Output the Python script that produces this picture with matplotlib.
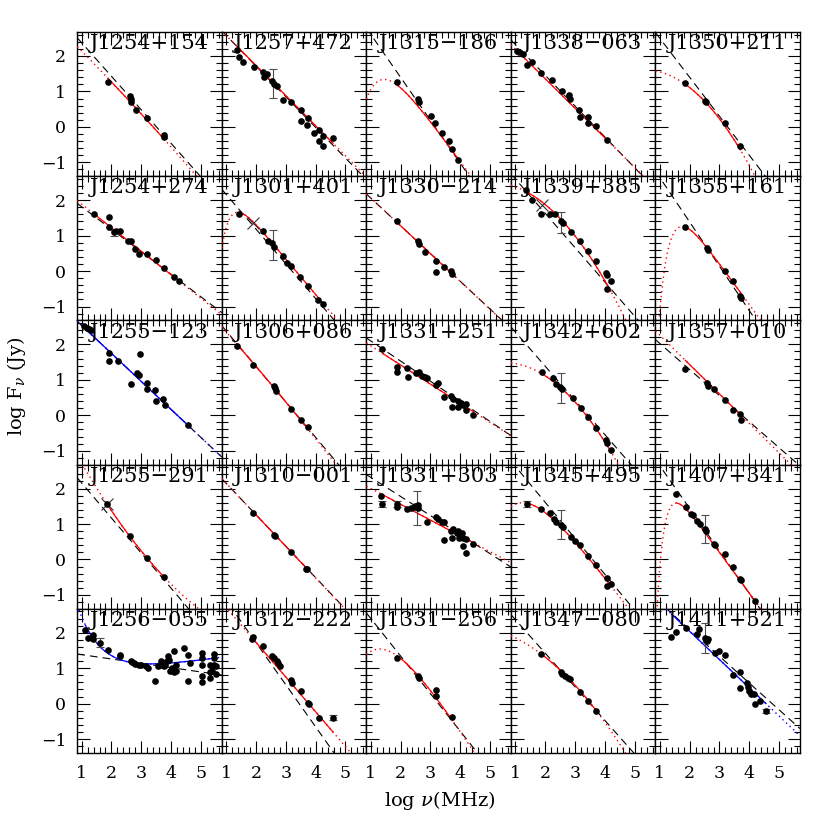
import numpy as np
import matplotlib

matplotlib.use("Agg")
import matplotlib.pyplot as plt
from matplotlib.ticker import MultipleLocator

plt.rcParams["font.family"] = ["DejaVu Serif"]
plt.rcParams["mathtext.fontset"] = "dejavuserif"

# panel order: column by column, as in the figure
names = [
    "J1254+154", "J1254+274", "J1255-123", "J1255-291", "J1256-055",
    "J1257+472", "J1301+401", "J1306+086", "J1310-001", "J1312-222",
    "J1315-186", "J1330-214", "J1331+251", "J1331+303", "J1331-256",
    "J1338-063", "J1339+385", "J1342+602", "J1345+495", "J1347-080",
    "J1350+211", "J1355+161", "J1357+010", "J1407+341", "J1411+521",
]

# log frequency (MHz) of the measurements
freq = {
    "J1254+154": [1.88, 2.61, 2.64, 2.67, 2.83, 3.20, 3.75, 3.75],
    "J1254+274": [1.41, 1.92, 1.92, 2.07, 2.14, 2.28, 2.55, 2.64, 2.80, 2.91, 3.18, 3.50, 3.75, 4.10, 4.26],
    "J1255-123": [1.09, 1.17, 1.25, 1.33, 1.92, 1.92, 2.23, 2.96, 2.64, 2.86, 2.91, 3.18, 3.20, 3.47, 3.50, 3.74, 3.78, 4.57],
    "J1255-291": [1.85, 2.61, 3.18, 3.75],
    "J1256-055": [1.12, 1.22, 1.38, 1.38, 1.60, 1.88, 2.28, 2.28, 2.64, 2.68, 2.75, 2.80, 2.91, 2.99, 3.15,
                  3.23, 3.47, 3.55, 3.62, 3.66, 3.70, 3.75, 3.81, 3.86, 3.91, 3.94, 3.97, 4.02, 4.10, 4.10,
                  4.18, 4.18, 4.42, 4.57, 4.57, 4.65, 5.02, 5.02, 5.05, 5.05, 5.05, 5.29, 5.29, 5.29, 5.44,
                  5.44, 5.44, 5.49, 5.36, 5.52],
    "J1257+472": [1.35, 1.43, 1.58, 1.92, 2.22, 2.37, 2.28, 2.52, 2.60, 2.69, 2.91, 3.18, 3.50, 3.75, 3.72,
                  3.50, 3.96, 4.11, 4.26, 4.11, 4.24, 4.59],
    "J1301+401": [1.43, 2.25, 2.41, 2.55, 2.61, 2.90, 3.05, 3.18, 3.48, 3.74, 4.08, 4.24],
    "J1306+086": [1.35, 1.90, 2.60, 2.63, 2.66, 3.17, 3.50, 3.74],
    "J1310-001": [1.90, 2.60, 2.63, 3.18, 3.66, 3.72],
    "J1312-222": [1.87, 1.90, 2.23, 2.55, 2.61, 2.71, 2.74, 2.82, 3.18, 3.21, 3.50, 3.74, 3.77, 4.10, 4.59],
    "J1315-186": [1.88, 2.58, 2.61, 3.01, 3.17, 3.39, 3.62, 3.72, 3.93],
    "J1330-214": [1.88, 2.58, 2.61, 2.82, 3.18, 3.18, 3.47, 3.70, 3.74],
    "J1331+251": [1.39, 1.88, 1.88, 2.23, 2.26, 2.53, 2.61, 2.71, 2.83, 2.88, 3.20, 3.26, 3.47, 3.70, 3.77,
                  3.93, 4.02, 3.74, 3.94, 4.10, 4.21, 4.18, 4.42],
    "J1331+303": [1.33, 1.39, 1.88, 1.88, 2.23, 2.34, 2.47, 2.50, 2.58, 2.58, 2.90, 3.18, 3.26, 3.39, 3.45,
                  3.47, 3.70, 3.74, 3.77, 3.89, 3.94, 3.97, 4.05, 4.10, 4.18, 4.08, 4.21, 4.42],
    "J1331-256": [1.88, 2.58, 2.61, 3.18, 3.18, 3.74],
    "J1338-063": [1.06, 1.14, 1.27, 1.39, 1.55, 1.87, 2.22, 2.58, 2.79, 2.85, 3.13, 3.17, 3.45, 3.45, 3.72, 4.08],
    "J1339+385": [1.35, 1.55, 1.87, 2.18, 2.34, 2.53, 2.60, 2.88, 3.17, 3.45, 3.72, 4.04, 4.08, 4.21, 4.08],
    "J1342+602": [1.90, 2.25, 2.37, 2.50, 2.56, 2.93, 3.20, 3.45, 3.72, 4.04, 4.08, 4.21],
    "J1345+495": [1.39, 1.87, 2.18, 2.30, 2.37, 2.53, 2.61, 2.88, 3.01, 3.17, 3.45, 3.72, 4.08, 4.08, 4.21],
    "J1347-080": [1.87, 2.53, 2.58, 2.66, 2.77, 2.82, 3.17, 3.45, 3.72],
    "J1350+211": [1.85, 2.52, 2.55, 3.17, 3.70],
    "J1355+161": [1.85, 2.58, 2.61, 3.17, 3.45, 3.69, 3.72],
    "J1357+010": [1.85, 2.58, 2.61, 2.82, 3.17, 3.45, 3.70, 3.72],
    "J1407+341": [1.55, 1.87, 2.03, 2.11, 2.23, 2.34, 2.50, 2.55, 2.82, 2.86, 3.17, 3.45, 3.69, 3.72, 4.19],
    "J1411+521": [1.39, 1.55, 1.87, 2.23, 2.30, 2.50, 2.55, 2.58, 2.61, 2.86, 2.98, 3.18, 3.45, 3.69, 3.69,
                  3.93, 3.97, 4.00, 4.04, 4.16, 4.19, 4.35, 4.56],
}

# log flux density (Jy)
flux = {
    "J1254+154": [1.27, 0.86, 0.80, 0.70, 0.49, 0.25, -0.24, -0.29],
    "J1254+274": [1.62, 1.52, 1.23, 1.10, 1.14, 1.12, 0.86, 0.84, 0.63, 0.48, 0.48, 0.30, 0.09, -0.16, -0.27],
    "J1255-123": [2.51, 2.47, 2.42, 2.40, 1.75, 1.52, 1.52, 1.73, 0.89, 1.18, 1.13, 0.92, 0.75, 0.71, 0.40, 0.45, 0.28, -0.26],
    "J1255-291": [1.56, 0.67, 0.04, -0.49],
    "J1256-055": [2.07, 1.86, 1.94, 1.81, 1.72, 1.52, 1.38, 1.34, 1.21, 1.18, 1.15, 1.12, 1.10, 1.08, 1.05,
                  1.01, 0.65, 1.05, 1.10, 1.21, 1.15, 1.05, 1.10, 1.19, 1.34, 1.24, 0.92, 1.00, 0.88, 1.49,
                  1.10, 0.92, 1.58, 1.37, 0.65, 1.15, 1.44, 1.30, 1.09, 0.78, 0.62, 0.73, 0.88, 1.10, 1.39,
                  1.30, 1.10, 0.85, 0.92, 1.05],
    "J1257+472": [2.18, 1.96, 1.82, 1.69, 1.56, 1.48, 1.41, 1.29, 1.21, 1.15, 0.76, 0.71, 0.48, 0.24, 0.05,
                  0.16, -0.17, -0.10, -0.26, -0.40, -0.55, -0.31],
    "J1301+401": [1.62, 1.12, 0.86, 0.79, 0.68, 0.44, 0.23, 0.15, -0.18, -0.43, -0.82, -0.93],
    "J1306+086": [1.95, 1.42, 0.82, 0.76, 0.68, 0.18, -0.12, -0.33],
    "J1310-001": [1.31, 0.69, 0.65, 0.20, -0.26, -0.28],
    "J1312-222": [1.81, 1.88, 1.63, 1.35, 1.28, 1.20, 1.16, 1.06, 0.66, 0.57, 0.36, 0.03, -0.02, -0.39, -0.39],
    "J1315-186": [1.27, 0.79, 0.70, 0.32, 0.11, -0.16, -0.40, -0.61, -0.92],
    "J1330-214": [1.40, 0.84, 0.77, 0.55, 0.29, -0.03, 0.12, -0.01, -0.09],
    "J1331+251": [1.87, 1.37, 1.22, 1.32, 1.08, 1.18, 1.22, 1.10, 1.08, 1.04, 0.86, 0.90, 0.51, 0.54, 0.45,
                  0.40, 0.35, 0.24, 0.23, 0.28, 0.31, 0.15, 0.02],
    "J1331+303": [1.80, 1.56, 1.56, 1.49, 1.42, 1.45, 1.47, 1.52, 1.53, 1.44, 1.05, 1.21, 1.14, 1.05, 1.05,
                  0.55, 0.81, 0.61, 0.86, 0.76, 0.81, 0.61, 0.76, 0.61, 0.57, 0.39, 0.17, 0.44],
    "J1331-256": [1.28, 0.78, 0.73, 0.38, 0.22, -0.37],
    "J1338-063": [2.15, 2.10, 2.06, 1.75, 1.82, 1.52, 1.31, 1.02, 0.89, 0.79, 0.49, 0.27, 0.27, 0.10, 0.02, -0.37],
    "J1339+385": [2.29, 2.01, 1.61, 1.62, 1.62, 1.42, 1.35, 1.10, 0.84, 0.57, 0.29, -0.06, -0.12, -0.29, -0.50],
    "J1342+602": [1.22, 1.06, 0.89, 0.80, 0.75, 0.49, 0.21, -0.04, -0.35, -0.70, -0.79, -0.98],
    "J1345+495": [1.56, 1.42, 1.31, 1.14, 1.07, 0.98, 0.92, 0.64, 0.53, 0.41, 0.11, -0.15, -0.53, -0.75, -0.69],
    "J1347-080": [1.39, 0.90, 0.85, 0.78, 0.72, 0.69, 0.34, 0.08, -0.20],
    "J1350+211": [1.23, 0.72, 0.70, 0.12, -0.55],
    "J1355+161": [1.23, 0.65, 0.59, -0.01, -0.27, -0.69, -0.76],
    "J1357+010": [1.31, 0.92, 0.84, 0.75, 0.42, 0.15, 0.05, -0.12],
    "J1407+341": [1.86, 1.47, 1.28, 1.26, 1.09, 1.00, 0.86, 0.81, 0.44, 0.42, 0.15, -0.22, -0.55, -0.58, -1.18],
    "J1411+521": [1.88, 2.03, 2.12, 1.96, 2.10, 1.86, 1.81, 1.77, 1.81, 1.44, 1.49, 1.37, 0.81, 0.88, 0.45,
                  0.59, 0.47, 0.36, 0.27, 0.28, 0.00, 0.08, -0.20],
}

# (log nu, log S, half length) of the drawn error bars
errbars = {
    "J1256-055": [(1.60, 1.72, 0.12)],
    "J1257+472": [(2.56, 1.23, 0.41)],
    "J1254+274": [(2.07, 1.08, 0.09)],
    "J1301+401": [(2.58, 0.74, 0.42)],
    "J1312-222": [(4.59, -0.39, 0.08)],
    "J1331+303": [(1.39, 1.56, 0.09), (1.88, 1.56, 0.08), (2.55, 1.45, 0.47)],
    "J1339+385": [(2.53, 1.37, 0.29)],
    "J1342+602": [(2.53, 0.77, 0.43)],
    "J1345+495": [(1.39, 1.56, 0.08), (2.53, 0.98, 0.41)],
    "J1407+341": [(2.53, 0.86, 0.40)],
    "J1411+521": [(2.50, 1.86, 0.42), (4.56, -0.20, 0.06)],
}

# points marked with a cross
crosses = {
    "J1255-291": [(1.85, 1.56)],
    "J1301+401": [(1.90, 1.35)],
    "J1339+385": [(1.90, 1.87)],
}

# straight power law fit: log S = a + b log nu
powerlaw = {
    "J1254+154": (3.32, -0.946), "J1254+274": (2.45, -0.635), "J1255-123": (3.325, -0.79),
    "J1255-291": (3.15, -0.99), "J1256-055": (1.504, -0.122), "J1257+472": (3.446, -0.865),
    "J1301+401": (3.142, -0.979), "J1306+086": (3.378, -1.0), "J1310-001": (3.033, -0.886),
    "J1312-222": (4.097, -1.188), "J1315-186": (3.82, -1.21), "J1330-214": (2.845, -0.783),
    "J1331+251": (2.666, -0.568), "J1331+303": (2.854, -0.538), "J1331-256": (3.465, -1.06),
    "J1338-063": (3.196, -0.869), "J1339+385": (3.569, -0.968), "J1342+602": (3.315, -0.964),
    "J1345+495": (3.645, -1.015), "J1347-080": (3.32, -0.947), "J1350+211": (3.60, -1.10),
    "J1355+161": (3.886, -1.25), "J1357+010": (2.76, -0.735), "J1407+341": (3.84, -1.2),
    "J1411+521": (3.60, -0.755),
}

# curved fit: a + b x + c x^2 + s*log10(e)*10^(-q (x - xt))
curved = {
    "J1254+154": (2.99, -0.832, -0.0143, 0, 0, 0),
    "J1254+274": (2.55, -0.663, 0, 0, 0, 0),
    "J1255-123": (3.325, -0.79, 0, 0, 0, 0),
    "J1255-291": (4.253, -1.638, 0.1, 0, 0, 0),
    "J1256-055": (0.65, 0.115, 0, 1, 0.55, 2.07),
    "J1257+472": (3.43, -0.849, 0, 0, 0, 0),
    "J1301+401": (3.34, -1.0, 0, -1, 1.5, 1.273),
    "J1306+086": (3.30, -0.93, -0.015, 0, 0, 0),
    "J1310-001": (3.04, -0.89, 0, 0, 0, 0),
    "J1312-222": (3.69, -0.98, 0, 0, 0, 0),
    "J1315-186": (3.63, -1.15, 0, -1, 0.8, 1.647),
    "J1330-214": (2.85, -0.785, 0, 0, 0, 0),
    "J1331+251": (2.50, -0.54, 0, 0, 0, 0),
    "J1331+303": (2.45, -0.446, 0, 0, 0, 0),
    "J1331-256": (4.485, -1.3, 0, -1, 0.45, 2.324),
    "J1338-063": (3.03, -0.834, 0, 0, 0, 0),
    "J1339+385": (2.505, 0.0675, -0.19, 0, 0, 0),
    "J1342+602": (1.414, 0.24, -0.195, 0, 0, 0),
    "J1345+495": (3.911, -1.1, 0, -1, 0.51, 1.904),
    "J1347-080": (2.15, -0.167, -0.125, 0, 0, 0),
    "J1350+211": (1.55, 0.22, -0.22, 0, 0, 0),
    "J1355+161": (3.657, -1.15, 0, -1, 1.3, 1.709),
    "J1357+010": (3.09, -0.83, 0, 0, 0, 0),
    "J1407+341": (3.65, -1.15, 0, -1, 1.8, 1.442),
    "J1411+521": (3.634, -0.797, 0, 0, 0, 0),
}
blue_fits = ["J1255-123", "J1256-055", "J1411+521"]

XLIM = (0.855, 5.70)
YLIM = (-1.39, 2.675)


def curve_model(x, a, b, c, s, q, xt):
    y = a + b * x + c * x ** 2
    if s:
        y = y + s * np.log10(np.e) * 10 ** (-q * (x - xt))
    return y


fig, axes = plt.subplots(5, 5, sharex=True, sharey=True, figsize=(8.3, 8.3), dpi=100)
fig.subplots_adjust(left=0.0931, right=0.9639, top=0.9614, bottom=0.0928, wspace=0, hspace=0)

xx = np.linspace(XLIM[0], XLIM[1], 500)
for i, name in enumerate(names):
    ax = axes[i % 5, i // 5]
    x = np.array(freq[name])
    y = np.array(flux[name])

    a, b = powerlaw[name]
    ax.plot(xx, a + b * xx, color="k", lw=0.8, ls=(0, (7, 4.5)), zorder=2)

    col = "#0000ff" if name in blue_fits else "#ff0000"
    yc = curve_model(xx, *curved[name])
    ax.plot(xx, yc, color=col, lw=1.0, ls=(0, (1, 2.5)), zorder=3)
    inside = (xx >= x.min()) & (xx <= x.max())
    ax.plot(xx[inside], yc[inside], color=col, lw=0.9, zorder=3)

    for ex, ey, ed in errbars.get(name, []):
        ax.errorbar([ex], [ey], yerr=[ed], fmt="none", ecolor="0.3", elinewidth=0.8,
                    capsize=3, capthick=0.8, zorder=4)
    for cx, cy in crosses.get(name, []):
        ax.plot([cx], [cy], marker="x", ms=9, mew=0.8, color="0.2", ls="none", zorder=5)

    ax.plot(x, y, "o", color="k", ms=4.8, mew=0, zorder=6)

    ax.text(0.085, 0.985, name.replace("-", "\u2212"), transform=ax.transAxes,
            ha="left", va="top", fontsize=15)

    ax.set_xlim(*XLIM)
    ax.set_ylim(*YLIM)
    ax.xaxis.set_major_locator(MultipleLocator(1))
    ax.xaxis.set_minor_locator(MultipleLocator(0.2))
    ax.yaxis.set_major_locator(MultipleLocator(1))
    ax.yaxis.set_minor_locator(MultipleLocator(0.2))
    ax.tick_params(which="both", direction="in", top=True, right=True, width=0.8, labelsize=12.5)
    ax.tick_params(which="major", length=9)
    ax.tick_params(which="minor", length=4.5)
    ax.tick_params(axis="x", pad=9)
    ax.tick_params(axis="y", pad=8)
    for sp in ax.spines.values():
        sp.set_linewidth(1.0)
    ax.label_outer()

fig.text(0.53, 0.036, r"log $\nu$(MHz)", ha="center", va="center", fontsize=14)
fig.text(0.02, 0.535, r"log F$_\nu$ (Jy)", ha="center", va="center", rotation=90, fontsize=14)

fig.savefig("out.png", dpi=100)
plt.close(fig)
